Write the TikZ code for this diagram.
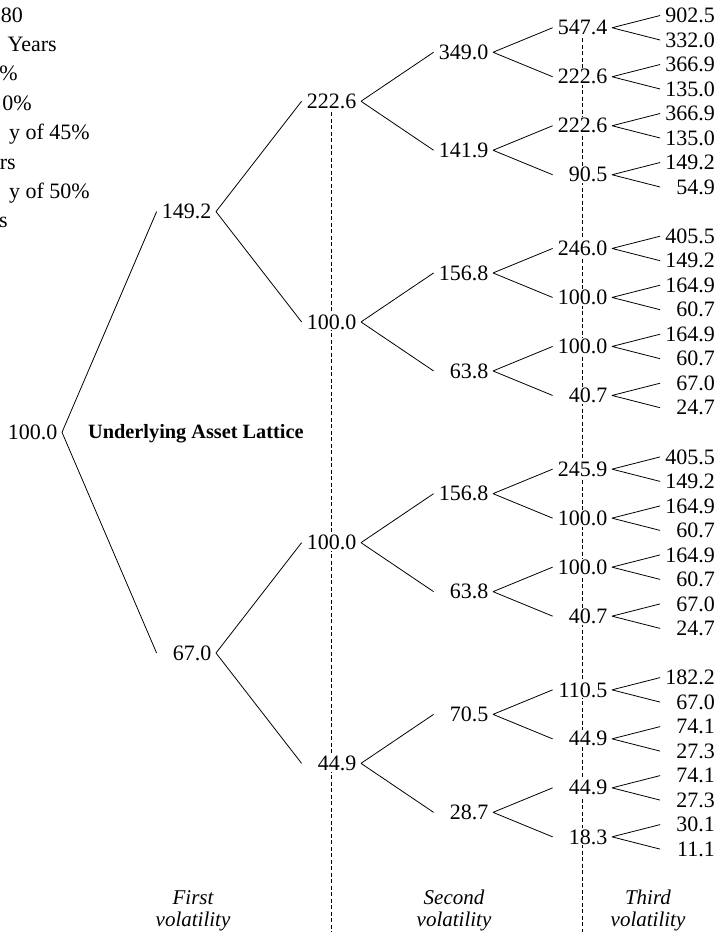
\documentclass[tikz,border=0pt]{standalone}
\usepackage{fontspec}
\setmainfont{Liberation Serif}
\newcommand\numfont{\fontsize{22}{24}\selectfont}
\newcommand\labfont{\fontsize{21}{23}\selectfont\itshape}
\newcommand\ttlfont{\fontsize{20.3}{22}\selectfont\bfseries}
\begin{document}
\begin{tikzpicture}[x=1pt,y=-1pt,
  val/.style={text width=50pt, align=right, inner xsep=4.5pt, inner ysep=1pt, fill=white, font=\numfont, anchor=east},
  edge/.style={line width=0.8pt},
  guide/.style={line width=0.6pt, dash pattern=on 4pt off 2.5pt},
  frag/.style={anchor=base east, inner sep=0pt, font=\numfont},
  lab/.style={anchor=base, inner sep=0pt, font=\labfont}
]
\clip (0,0) rectangle (723,932);
\fill[white] (0,0) rectangle (723,932);

% top-left fragments of a cut-off parameter list
\node[frag] (f1) at (23,22) {80};
\node[frag] (f2) at (57,51.4) {Years};
\node[frag] (f3) at (18,80.8) {\%};
\node[frag] (f4) at (32,110.2) {0\%};
\node[frag] (f5) at (90,139.6) {y of 45\%};
\node[frag] (f6) at (16,169) {rs};
\node[frag] (f7) at (90,198.4) {y of 50\%};
\node[frag] (f8) at (8,227.8) {s};

% dashed guides
\coordinate (g1top) at (331,112);
\coordinate (g1bot) at (331,932);
\coordinate (g2top) at (582,38);
\coordinate (g2bot) at (582,932);
\draw[guide] (g1top) -- (g1bot);
\draw[guide] (g2top) -- (g2bot);

% lattice nodes
\node[val] (r) at (62,432.3) {100.0};
\foreach \v [count=\k from 0] in {149.2,67.0}{
  \pgfmathsetmacro\yy{15.5+441.4*\k+196.1}
  \node[val] (a\k) at (216,\yy) {\v};
}
\foreach \v [count=\k from 0] in {222.6,100.0,100.0,44.9}{
  \pgfmathsetmacro\yy{15.5+220.7*\k+85.75}
  \node[val] (b\k) at (361,\yy) {\v};
}
\foreach \v [count=\k from 0] in {349.0,141.9,156.8,63.8,156.8,63.8,70.5,28.7}{
  \pgfmathsetmacro\yy{15.5+220.7*floor(\k/2)+98*mod(\k,2)+36.75}
  \node[val] (c\k) at (493,\yy) {\v};
}
\foreach \v [count=\k from 0] in {547.4,222.6,222.6,90.5,246.0,100.0,100.0,40.7,245.9,100.0,100.0,40.7,110.5,44.9,44.9,18.3}{
  \pgfmathsetmacro\yy{15.5+220.7*floor(\k/4)+49*mod(\k,4)+12.25}
  \node[val] (d\k) at (612,\yy) {\v};
}
\foreach \v [count=\k from 0] in {902.5,332.0,366.9,135.0,366.9,135.0,149.2,54.9,405.5,149.2,164.9,60.7,164.9,60.7,67.0,24.7,405.5,149.2,164.9,60.7,164.9,60.7,67.0,24.7,182.2,67.0,74.1,27.3,74.1,27.3,30.1,11.1}{
  \pgfmathsetmacro\yy{15.5+220.7*floor(\k/8)+24.5*mod(\k,8)}
  \node[val] (e\k) at (719.5,\yy) {\v};
}

% connectors
\draw[edge] (r.east) -- (a0.west) (r.east) -- (a1.west);
\foreach \j in {0,1}{
  \pgfmathtruncatemacro\p{2*\j}\pgfmathtruncatemacro\q{2*\j+1}
  \draw[edge] (a\j.east) -- (b\p.west) (a\j.east) -- (b\q.west);
}
\foreach \j in {0,...,3}{
  \pgfmathtruncatemacro\p{2*\j}\pgfmathtruncatemacro\q{2*\j+1}
  \draw[edge] (b\j.east) -- (c\p.west) (b\j.east) -- (c\q.west);
}
\foreach \j in {0,...,7}{
  \pgfmathtruncatemacro\p{2*\j}\pgfmathtruncatemacro\q{2*\j+1}
  \draw[edge] (c\j.east) -- (d\p.west) (c\j.east) -- (d\q.west);
}
\foreach \j in {0,...,15}{
  \pgfmathtruncatemacro\p{2*\j}\pgfmathtruncatemacro\q{2*\j+1}
  \draw[edge] (d\j.east) -- (e\p.west) (d\j.east) -- (e\q.west);
}

% labels
\node[anchor=base west, inner sep=0pt, font=\ttlfont] (title) at (88,438.5) {Underlying Asset Lattice};
\node[lab] (v1a) at (193,904) {First};
\node[lab] (v1b) at (193,926) {volatility};
\node[lab] (v2a) at (454,904) {Second};
\node[lab] (v2b) at (454,926) {volatility};
\node[lab] (v3a) at (648,904) {Third};
\node[lab] (v3b) at (648,926) {volatility};
\end{tikzpicture}
\end{document}
